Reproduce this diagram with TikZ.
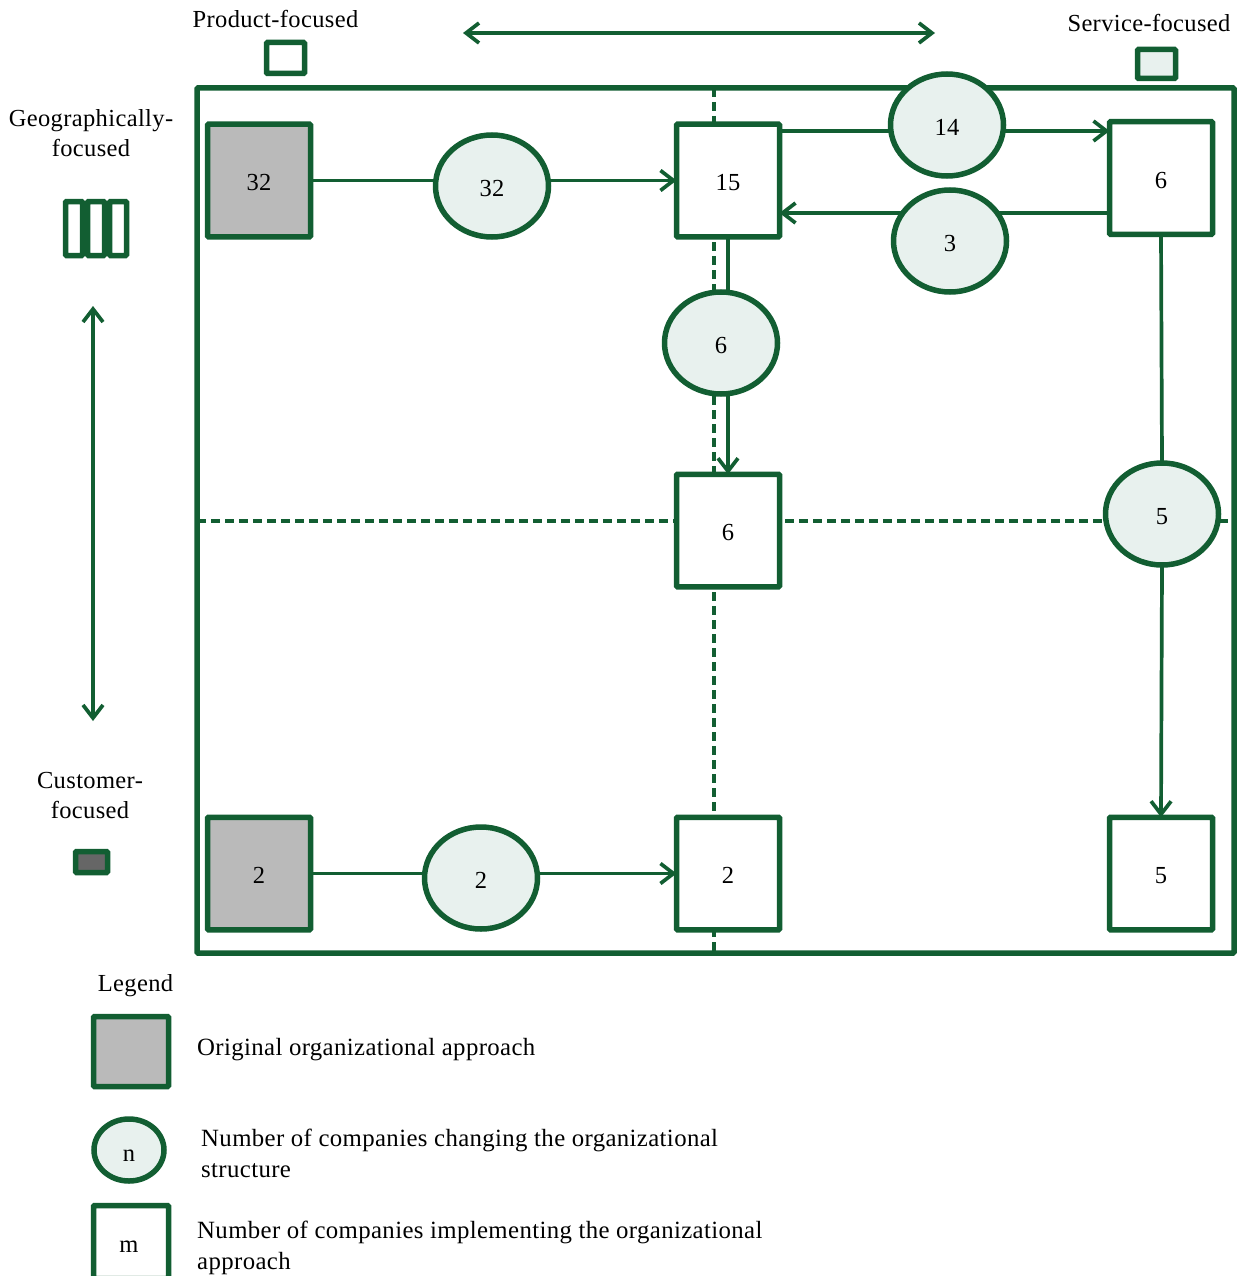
\documentclass[tikz,border=0pt]{standalone}
\usepackage{fontspec}
\setmainfont{Liberation Serif}[LetterSpace=1.5]
\usetikzlibrary{arrows.meta, shapes.geometric, positioning}
\definecolor{dkgreen}{HTML}{125E32}
\definecolor{palegreen}{HTML}{E8F1EE}
\tikzset{
	box/.style={rectangle, draw=dkgreen, line width=5.5pt, rounded corners=1pt, inner sep=0pt, outer sep=0pt, minimum width=103pt, minimum height=112.5pt, fill=white, text height=20.5pt, text depth=0pt},
	orig/.style={box, fill=black!27},
	bubble/.style={ellipse, draw=dkgreen, line width=5.5pt, inner sep=0pt, outer sep=0pt, minimum width=113pt, minimum height=102pt, fill=palegreen, text height=20.5pt, text depth=0pt},
	flow/.style={draw=dkgreen, line width=3.7pt},
	flowarrow/.style={flow, -{Straight Barb[length=13pt,width=20pt,line width=3.7pt]}},
	twoway/.style={flow, {Straight Barb[length=13pt,width=20pt,line width=3.7pt]}-{Straight Barb[length=13pt,width=20pt,line width=3.7pt]}},
	boundary/.style={draw=dkgreen, line width=4pt, dash pattern=on 9pt off 5pt},
	label/.style={align=center, inner sep=0pt},
	note/.style={align=left, anchor=west, inner sep=0pt, font=\fontsize{24.8}{31}\selectfont},
	mark box/.style={rectangle, draw=dkgreen, line width=5.5pt, rounded corners=1pt, inner sep=0pt, outer sep=0pt},
}
\begin{document}
\begin{tikzpicture}[x=1pt, y=-1pt, every node/.append style={font=\fontsize{24.5}{30}\selectfont}]
		\useasboundingbox (0,0) rectangle (1242,1276);
		% axes
		\node[mark box, minimum width=1037pt, minimum height=865pt] (frame) at (715.5,520.5) {};
		\draw[boundary] (frame.north -| 714,0) -- (frame.south -| 714,0);
		\draw[boundary] (frame.west) -- (1228,520.5);
		% squares
		\foreach \x /\y /\alph /\name /\kind in {
			259/180.5/orig1/32/orig,
			728/180.5/mid1/15/box,
			1161/178/serv1/6/box,
			728/530.5/mid2/6/box,
			259/873.5/orig2/2/orig,
			728/873.5/mid3/2/box,
			1161/873.5/serv3/5/box%
		 }{
			\node[\kind] (\alph) at (\x,\y) {\name};
		 }
		% circles
		\foreach \x /\y /\alph /\name in {
			492/186/c32/32,
			947/125/c14/14,
			950/241/c3/3,
			721/343/c6/6,
			1162/514/c5/5,
			481/878/c2/2%
		 }{
			\node[bubble] (\alph) at (\x,\y) {\name};
		 }
		% flows
		\draw[flow] (orig1.east) -- (c32.west |- orig1.east);
		\draw[flowarrow] (c32.east |- mid1.west) -- (mid1.west);
		\draw[flow] (mid1.east |- 0,131) -- (c14.west |- 0,131);
		\draw[flowarrow] (c14.east |- 0,131) -- (serv1.west |- 0,131);
		\draw[flow] (serv1.west |- 0,213) -- (c3.30 |- 0,213);
		\draw[flowarrow] (c3.150 |- 0,213) -- (mid1.east |- 0,213);
		\draw[flow] (mid1.south) -- (mid1.south |- c6.north);
		\draw[flowarrow] (mid1.south |- c6.south) -- (mid2.north);
		\draw[flow] (serv1.south) -- (c5.north);
		\draw[flowarrow] (c5.south) -- (serv3.north);
		\draw[flow] (orig2.east) -- (c2.west |- orig2.east);
		\draw[flowarrow] (c2.east |- mid3.west) -- (mid3.west);
		% axis labels
		\node[label] (Prod) at (275.5,19) {Product-focused};
		\node[mark box, minimum width=38pt, minimum height=31pt] (prodmark) at (285.5,58) {};
		\node[label] (Serv) at (1149,23) {Service-focused};
		\node[mark box, minimum width=38pt, minimum height=29pt, fill=palegreen] (servmark) at (1156.5,64) {};
		\node[label] (Geo) at (91,133) {Geographically-\\focused};
		\foreach \x /\alph in {74/geo1, 96/geo2, 118/geo3}{
			\node[mark box, minimum width=17pt, minimum height=54pt] (\alph) at (\x,228.5) {};
		}
		\node[label] (Cust) at (90,795) {Customer-\\focused};
		\node[mark box, minimum width=32pt, minimum height=21pt, fill=black!60] (custmark) at (91.5,862) {};
		\coordinate (hleft) at (463,33);
		\coordinate (hright) at (935,33);
		\coordinate (vtop) at (93,306);
		\coordinate (vbot) at (93,721);
		\draw[twoway] (hleft) -- (hright);
		\draw[twoway] (vtop) -- (vbot);
		% legend
		\node[label] (Leg) at (135.5,986) {Legend};
		\node[orig, minimum width=75pt, minimum height=70pt] (legorig) at (131,1051.5) {};
		\node[bubble, minimum width=70pt, minimum height=62pt] (legcirc) at (129,1150) {};
		\node[label] (legn) at (129,1156) {n};
		\node[box, minimum width=75pt, minimum height=73pt] (legbox) at (131,1242) {};
		\node[label] (legm) at (129,1247) {m};
		\node[note] (t1) at (197,1050) {Original organizational approach};
		\node[note] (t2) at (201,1153) {Number of companies changing the organizational\\structure};
		\node[note] (t3) at (197,1248) {Number of companies implementing the organizational\\approach};
\end{tikzpicture}
\end{document}
